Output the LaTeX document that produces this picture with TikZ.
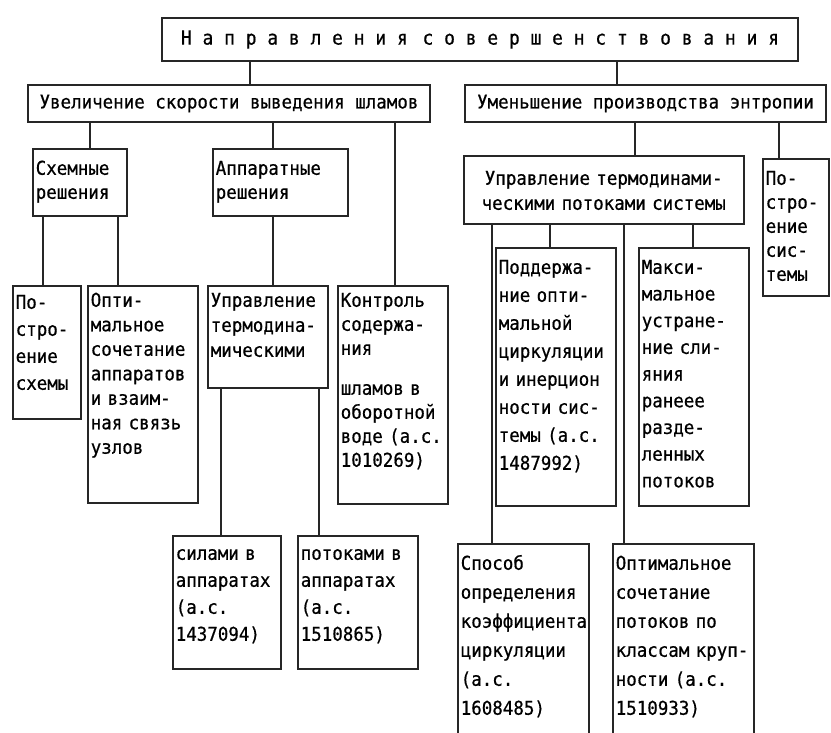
\documentclass[tikz,border=0pt]{standalone}
\usepackage{fontspec}
\newfontfamily\dotfont[FakeStretch=0.92,FakeBold=0.6]{DejaVu Sans Mono}
\tikzstyle{wire} = [line width=1.3pt, black!85]

\begin{document}
\begin{tikzpicture}[x=1pt,y=-1pt]
\tikzset{blk/.style={draw=black!85,line width=1.5pt,anchor=north west,align=left,inner xsep=3pt,inner ysep=4pt,font=\dotfont\fontsize{19}{25}\selectfont},
hd/.style={draw=black!85,line width=1.5pt,inner sep=0pt,font=\dotfont\fontsize{19}{25}\selectfont},
sk/.style={font=\dotfont\fontsize{19}{#1}\selectfont}}
\path[use as bounding box,clip] (0,0) rectangle (831,732);

% top levels
\node[hd,minimum width=636pt,minimum height=43pt,font=\dotfont\fontsize{19.5}{22}\selectfont] (root) at (480,39.5)
  {Н а п р а в л е н и я\hspace{4pt} с о в е р ш е н с т в о в а н и я};
\node[hd,minimum width=402pt,minimum height=37pt] (lft) at (229,103.5) {Увеличение скорости выведения шламов};
\node[hd,minimum width=361pt,minimum height=37pt] (rgt) at (645.5,103.5) {Уменьшение производства энтропии};

% left branch
\node[blk,sk=24,text width=88pt,text height=22pt,text depth=37pt] (schem) at (32,148) {Схемные\\решения};
\node[blk,sk=24,text width=129pt,text height=22pt,text depth=37pt] (appar) at (212,148) {Аппаратные\\решения};
\node[blk,sk=27,text width=62pt,text height=19pt,text depth=106pt] (schb) at (12,285) {По-\\стро-\\ение\\схемы};
\node[blk,sk=24.5,text width=104pt,text height=17pt,text depth=192pt] (optb) at (87,285) {Опти-\\мальное\\сочетание\\аппаратов\\и взаим-\\ная связь\\узлов};
\node[blk,text width=114pt,text height=17pt,text depth=77pt] (thermo) at (207,285) {Управление\\термодина-\\мическими};
\node[blk,sk=24,text width=104pt,text height=17pt,text depth=193pt] (ctrl) at (337,285) {Контроль\\содержа-\\ния\\[16pt]шламов в\\оборотной\\воде (а.с.\\1010269)};
\node[blk,sk=27,text width=102pt,text height=20pt,text depth=105pt] (sil) at (172,535) {силами в\\аппаратах\\(а.с.\\1437094)};
\node[blk,sk=27,text width=114pt,text height=20pt,text depth=105pt] (pot) at (297,535) {потоками в\\аппаратах\\(а.с.\\1510865)};

% right branch
\node[blk,text width=274pt,text height=25pt,text depth=35pt,align=center] (upr) at (463,155) {Управление термодинами-\\ческими потоками системы};
\node[blk,sk=24,text width=60pt,text height=22pt,text depth=107pt] (sysb) at (762,158) {По-\\стро-\\ение\\сис-\\темы};
\node[blk,sk=28,text width=114pt,text height=22pt,text depth=228pt] (podd) at (495,247) {Поддержа-\\ние опти-\\мальной\\циркуляции\\и инерцион\\ности сис-\\темы (а.с.\\1487992)};
\node[blk,sk=26.7,text width=104pt,text height=22pt,text depth=228pt] (maks) at (638,247) {Макси-\\мальное\\устране-\\ние сли-\\яния\\ранеее\\разде-\\ленных\\потоков};
\node[blk,sk=29,text width=125pt,text height=22pt,text depth=187pt] (spos) at (457,543) {Способ\\определения\\коэффициента\\циркуляции\\(а.с.\\1608485)};
\node[blk,sk=29,text width=135pt,text height=22pt,text depth=187pt] (optp) at (612,543) {Оптимальное\\сочетание\\потоков по\\классам круп-\\ности (а.с.\\1510933)};

% connectors
\foreach \a/\b/\x in {root/lft/250,root/rgt/617,lft/schem/90,lft/appar/273,lft/ctrl/395,
  rgt/upr/635,rgt/sysb/779,schem/schb/43,schem/optb/118,appar/thermo/273,
  thermo/sil/221,thermo/pot/319,upr/spos/492,upr/podd/550,upr/optp/624,upr/maks/693}
  \draw[wire] (\a.south -| \x,0) -- (\b.north -| \x,0);

\end{tikzpicture}
\end{document}
